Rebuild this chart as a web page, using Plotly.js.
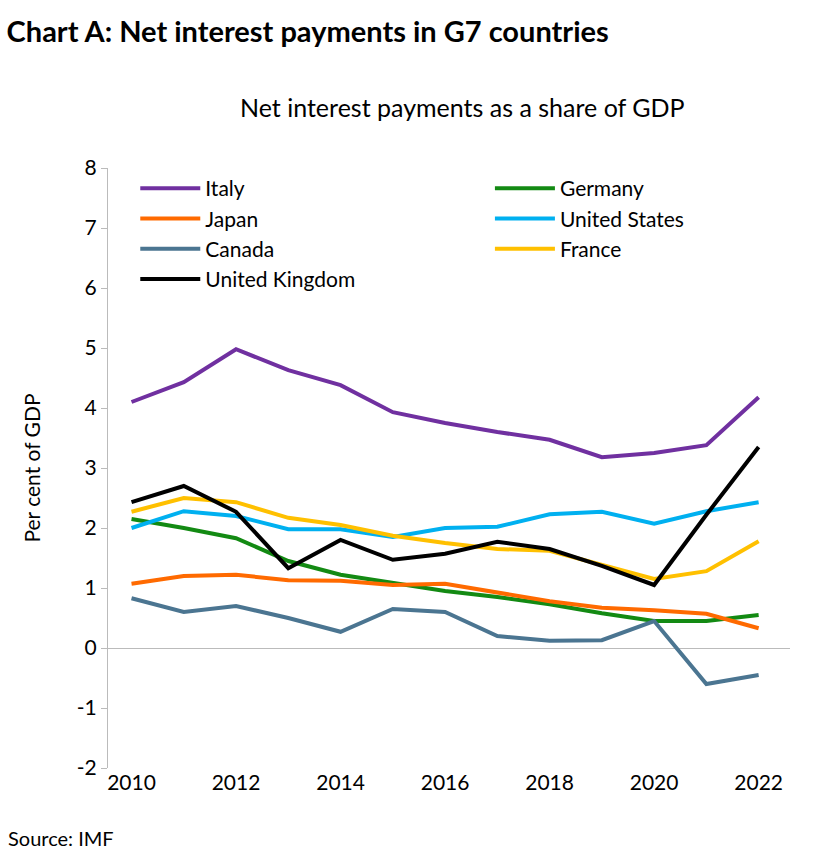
<!DOCTYPE html>
<html>
<head>
<script src="https://cdn.plot.ly/plotly-3.0.1.min.js"></script>
<style>body{margin:0;background:#fff}</style>
</head>
<body>
<div id="chart" style="width:826px;height:859px"></div>
<script>
var years = [2010,2011,2012,2013,2014,2015,2016,2017,2018,2019,2020,2021,2022]
var italy = [4.1,4.43,4.98,4.63,4.38,3.93,3.75,3.6,3.47,3.18,3.25,3.38,4.18]
var germany = [2.15,2.0,1.83,1.45,1.22,1.08,0.95,0.85,0.73,0.58,0.45,0.45,0.55]
var japan = [1.07,1.2,1.22,1.13,1.12,1.05,1.07,0.92,0.78,0.67,0.63,0.57,0.33]
var us = [2.0,2.28,2.2,1.98,1.98,1.85,2.0,2.02,2.23,2.27,2.07,2.28,2.43]
var canada = [0.83,0.6,0.7,0.5,0.27,0.65,0.6,0.2,0.12,0.13,0.45,-0.6,-0.45]
var france = [2.27,2.5,2.43,2.17,2.05,1.87,1.75,1.65,1.62,1.38,1.15,1.28,1.78]
var uk = [2.43,2.7,2.27,1.33,1.8,1.47,1.57,1.77,1.65,1.37,1.05,2.22,3.35]
var yTicks = [-2,-1,0,1,2,3,4,5,6,7,8]

// name, values, colour, legend column
var series = [
    ['Germany', germany, '#138a13', 'legend2'],
    ['Japan', japan, '#ff6a00', 'legend'],
    ['United States', us, '#00b0f0', 'legend2'],
    ['Canada', canada, '#4b7591', 'legend'],
    ['France', france, '#ffc000', 'legend2'],
    ['Italy', italy, '#7030a0', 'legend'],
    ['United Kingdom', uk, '#000000', 'legend']
]
var rank = { 'Italy': 1, 'Japan': 2, 'Canada': 3, 'United Kingdom': 4, 'Germany': 1, 'United States': 2, 'France': 3 }
var data = []
for (var i = 0; i < series.length; i++) {
    data.push({
        name: series[i][0],
        x: years,
        y: series[i][1],
        mode: 'lines',
        legend: series[i][3],
        legendrank: rank[series[i][0]],
        line: { color: series[i][2], width: 4 }
    })
}

var legendStyle = {
    yanchor: 'top', xanchor: 'left', y: 1.0, font: { size: 21 },
    itemwidth: 60, tracegroupgap: 0, bgcolor: 'rgba(0,0,0,0)', traceorder: 'normal'
}

var layout = {
    width: 826, height: 859,
    font: { family: 'Lato, sans-serif', size: 20, color: '#000' },
    margin: { l: 108, r: 36, t: 168, b: 91 },
    showlegend: true,
    title: {
        text: '<b>Chart A: Net interest payments in G7 countries</b>',
        xref: 'container', yref: 'container', x: 0.008, xanchor: 'left',
        y: 0.975, yanchor: 'top', font: { size: 29 }
    },
    legend: Object.assign({ x: 0.04 }, legendStyle),
    legend2: Object.assign({ x: 0.56 }, legendStyle),
    xaxis: {
        range: [2009.55, 2022.6], tickvals: [2010,2012,2014,2016,2018,2020,2022],
        showgrid: false, zeroline: false, showline: false, ticks: '',
        tickfont: { size: 21 }
    },
    yaxis: {
        range: [-2, 8], tickvals: yTicks, ticktext: yTicks.map(String),
        showgrid: false, zeroline: true,
        zerolinecolor: '#bbb', zerolinewidth: 1,
        showline: true, linecolor: '#bbb', ticks: 'outside', ticklen: 6,
        tickcolor: '#bbb', tickfont: { size: 21 },
        title: { text: 'Per cent of GDP', font: { size: 21 }, standoff: 30 }
    },
    annotations: [
        { text: 'Net interest payments as a share of GDP', xref: 'paper', yref: 'paper',
          x: 0.52, y: 1.13, showarrow: false, font: { size: 25 } },
        { text: 'Source: IMF', xref: 'paper', yref: 'paper',
          x: -0.15, y: -0.14, xanchor: 'left', showarrow: false, font: { size: 20 } }
    ]
}

Plotly.newPlot('chart', data, layout, { displayModeBar: false })
</script>
</body>
</html>
